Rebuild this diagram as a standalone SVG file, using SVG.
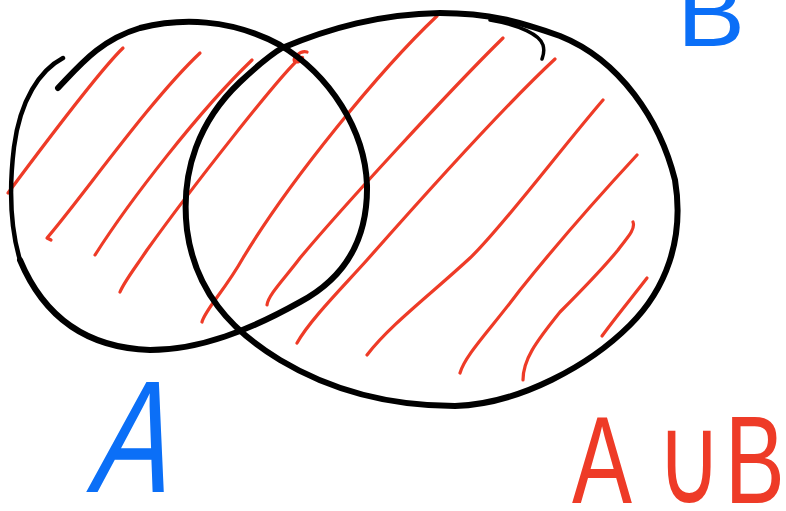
<svg xmlns="http://www.w3.org/2000/svg" width="786" height="511" viewBox="0 0 786 511">
  <style>
    .outline { fill: none; stroke: #000; stroke-width: 6; stroke-linecap: round; stroke-linejoin: round; }
    .thin { fill: none; stroke: #000; stroke-width: 3.5; stroke-linecap: round; }
    .hatch { fill: none; stroke: #ee3b27; stroke-width: 3.2; stroke-linecap: round; stroke-linejoin: round; }
    .lblBlue { fill: #0b6ff7; font-family: "Liberation Sans", "DejaVu Sans", sans-serif; }
    .lblRed { fill: #ee3b27; font-family: "Liberation Sans", "DejaVu Sans", sans-serif; }
  </style>
  <rect width="786" height="511" fill="#fff"/>

  <g id="hatching">
    <path class="hatch" d="M123,48 C100,70 40,150 8,193"/>
    <path class="hatch" d="M200,53 C150,100 80,200 47,238 L51,240"/>
    <path class="hatch" d="M252,60 C200,110 130,200 95,255"/>
    <path class="hatch" d="M307,52 C300,50 290,60 296,62 C302,62 305,55 300,58 C280,75 190,190 147,250 C135,268 124,282 120,292"/>
    <path class="hatch" d="M437,16 C380,70 290,180 243,258 C225,290 205,310 202,322"/>
    <path class="hatch" d="M503,38 C450,90 340,210 300,258 C285,278 268,295 267,305"/>
    <path class="hatch" d="M555,59 C500,110 420,200 367,260 C340,290 310,320 297,343"/>
    <path class="hatch" d="M603,100 C560,150 500,230 470,258 C430,295 390,325 367,355"/>
    <path class="hatch" d="M637,155 C600,195 560,240 520,290 C490,330 465,355 460,373"/>
    <path class="hatch" d="M633,222 C636,230 625,240 618,250 C600,272 580,292 560,312 C535,343 523,360 523,380"/>
    <path class="hatch" d="M647,278 C630,300 615,318 602,336"/>
  </g>

  <g id="setA">
    <path class="outline" d="M58,88 C80,65 100,40 140,28 C180,18 230,18 280,45 C330,75 365,130 367,185 C368,240 345,278 300,302 C250,330 200,350 150,350 C90,348 45,320 20,260"/>
    <path class="outline" style="stroke-width:4.5" d="M63,58 C40,70 20,100 14,147 C10,180 8,220 20,260"/>
  </g>

  <g id="setB">
    <path class="outline" d="M282,48 C330,28 380,14 440,13 C490,13 520,22 560,36 C620,60 660,120 675,180 C685,240 665,290 630,325 C590,365 520,404 455,406 C390,406 330,390 280,360 C230,330 195,290 187,230 C180,170 200,120 240,82 C255,68 268,56 282,48"/>
    <path class="thin" d="M490,20 C520,25 540,35 543,45 C545,52 543,56 542,59"/>
  </g>

  <g id="labels">
    <text class="lblBlue" transform="translate(86,492) skewX(-14)" font-size="160" textLength="78" lengthAdjust="spacingAndGlyphs">A</text>
    <text class="lblBlue" x="677" y="46" font-size="95" textLength="68" lengthAdjust="spacingAndGlyphs">B</text>
    <text class="lblRed" transform="translate(572,503) scale(0.72,1)" font-size="125"><tspan x="0">A</tspan><tspan x="117">∪</tspan><tspan x="212">B</tspan></text>
  </g>
</svg>
